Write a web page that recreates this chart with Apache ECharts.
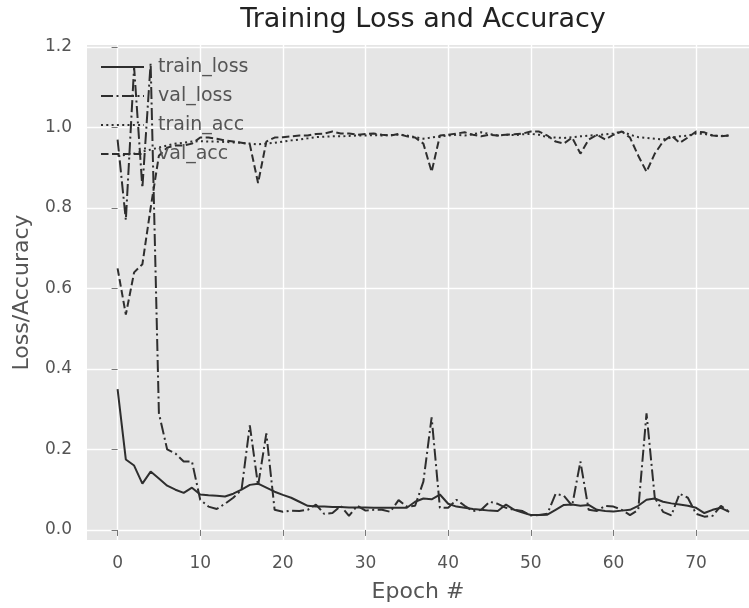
<!DOCTYPE html>
<html>
<head>
<meta charset="utf-8">
<title>Training Loss and Accuracy</title>
<script src="https://cdn.jsdelivr.net/npm/echarts@6/dist/echarts.min.js"></script>
<style>
  html, body { margin: 0; padding: 0; background: #fff; }
  #chart { width: 749px; height: 608px; }
</style>
</head>
<body>
<div id="chart"></div>
<script>
// 75 epochs, values
var epochs = [];
for (var e = 0; e < 75; e++) epochs.push(e);

var trainLoss = [
  0.35, 0.175, 0.16, 0.115, 0.145, 0.128, 0.11, 0.10, 0.092, 0.105,
  0.088, 0.086, 0.085, 0.083, 0.09, 0.10, 0.112, 0.115, 0.105, 0.095,
  0.087, 0.08, 0.07, 0.06, 0.058, 0.058, 0.057, 0.057, 0.056, 0.056,
  0.056, 0.055, 0.055, 0.055, 0.055, 0.055, 0.07, 0.078, 0.076, 0.088,
  0.065, 0.058, 0.055, 0.052, 0.05, 0.048, 0.047, 0.063, 0.05, 0.043,
  0.037, 0.037, 0.038, 0.05, 0.062, 0.063, 0.06, 0.062, 0.05, 0.047,
  0.046, 0.048, 0.05, 0.06, 0.075, 0.078, 0.07, 0.066, 0.063, 0.06,
  0.055, 0.042, 0.05, 0.055, 0.045
];
var valLoss = [
  0.97, 0.77, 1.15, 0.85, 1.16, 0.29, 0.20, 0.19, 0.17, 0.17,
  0.075, 0.058, 0.052, 0.065, 0.08, 0.10, 0.26, 0.11, 0.24, 0.05,
  0.045, 0.048, 0.047, 0.05, 0.063, 0.04, 0.042, 0.06, 0.035, 0.06,
  0.048, 0.05, 0.05, 0.045, 0.074, 0.058, 0.06, 0.12, 0.28, 0.055,
  0.055, 0.075, 0.06, 0.047, 0.05, 0.07, 0.065, 0.055, 0.05, 0.047,
  0.036, 0.037, 0.04, 0.09, 0.085, 0.06, 0.17, 0.05, 0.047, 0.06,
  0.058, 0.05, 0.037, 0.05, 0.29, 0.08, 0.045, 0.036, 0.09, 0.08,
  0.04, 0.033, 0.035, 0.06, 0.045
];
var trainAcc = [
  0.93, 0.932, 0.935, 0.94, 0.945, 0.95, 0.955, 0.96, 0.962, 0.965,
  0.966, 0.965, 0.965, 0.964, 0.963, 0.962, 0.96, 0.958, 0.96, 0.962,
  0.965, 0.968, 0.97, 0.973, 0.976, 0.977, 0.978, 0.978, 0.979, 0.98,
  0.98, 0.981, 0.98, 0.981, 0.982, 0.98, 0.976, 0.972, 0.975, 0.978,
  0.98, 0.982, 0.98, 0.983, 0.988, 0.984, 0.98, 0.982, 0.981, 0.983,
  0.984, 0.982, 0.976, 0.975, 0.974, 0.976, 0.978, 0.98, 0.981, 0.983,
  0.985, 0.99, 0.982, 0.976, 0.974, 0.972, 0.97, 0.975, 0.978, 0.98,
  0.985, 0.984, 0.98, 0.979, 0.98
];
var valAcc = [
  0.65, 0.535, 0.64, 0.66, 0.80, 0.93, 0.95, 0.955, 0.955, 0.96,
  0.975, 0.975, 0.972, 0.968, 0.965, 0.962, 0.958, 0.862, 0.965, 0.975,
  0.976, 0.978, 0.98, 0.98, 0.984, 0.985, 0.99, 0.985, 0.985, 0.982,
  0.984, 0.985, 0.982, 0.98, 0.984, 0.978, 0.975, 0.96, 0.89, 0.98,
  0.982, 0.985, 0.988, 0.982, 0.978, 0.982, 0.98, 0.982, 0.983, 0.985,
  0.99, 0.99, 0.98, 0.965, 0.96, 0.975, 0.935, 0.97, 0.982, 0.97,
  0.982, 0.99, 0.975, 0.93, 0.89, 0.935, 0.965, 0.98, 0.962, 0.975,
  0.99, 0.988, 0.98, 0.978, 0.98
];

var seriesNames = ['train_loss', 'val_loss', 'train_acc', 'val_acc'];
var xTicks = [0, 10, 20, 30, 40, 50, 60, 70];
var yTicks = [0.0, 0.2, 0.4, 0.6, 0.8, 1.0, 1.2];

var font = 'DejaVu Sans';
var lineColor = '#2e2e2e';

function pairs (vals) {
  return epochs.map(function (ep, i) { return [ep, vals[i]]; });
}

function lineSeries (name, vals, dash) {
  return {
    name: name,
    type: 'line',
    data: pairs(vals),
    symbol: 'none',
    lineStyle: { color: lineColor, width: 2, type: dash },
    itemStyle: { color: lineColor }
  };
}

var chart = echarts.init(document.getElementById('chart'));

var option = {
  animation: false,
  backgroundColor: '#fff',
  title: {
    text: 'Training Loss and Accuracy',
    left: 423,
    top: 6,
    padding: 0,
    textAlign: 'center',
    textStyle: { fontFamily: font, fontSize: 27, fontWeight: 'normal', color: '#222' }
  },
  legend: {
    data: seriesNames,
    orient: 'vertical',
    left: 100,
    top: 57,
    padding: 0,
    itemWidth: 43,
    itemHeight: 14,
    itemGap: 9,
    // hide the dot that line legends add in the middle of the sample
    itemStyle: { color: 'rgba(0,0,0,0)', borderWidth: 0 },
    textStyle: {
      fontFamily: font, fontSize: 19, color: '#555',
      lineHeight: 20, padding: [0, 0, 0, 9]
    }
  },
  grid: {
    left: 87,
    right: 0,
    top: 45,
    bottom: 66,
    show: true,
    backgroundColor: '#E5E5E5',
    borderWidth: 0,
    containLabel: false
  },
  xAxis: {
    type: 'value',
    min: -3.7,
    max: 76.4,
    name: 'Epoch #',
    nameLocation: 'middle',
    nameGap: 41,
    nameTextStyle: { fontFamily: font, fontSize: 22, color: '#555' },
    axisLine: { show: false },
    axisTick: { show: true, length: 6, customValues: xTicks, lineStyle: { color: '#777', width: 1 } },
    axisLabel: { customValues: xTicks, margin: 15, fontFamily: font, fontSize: 17, color: '#555' },
    splitLine: { show: true, lineStyle: { color: '#fff', width: 1.4 } }
  },
  yAxis: {
    type: 'value',
    min: -0.025,
    max: 1.205,
    name: 'Loss/Accuracy',
    nameLocation: 'middle',
    nameRotate: 90,
    nameGap: 54,
    nameTextStyle: { fontFamily: font, fontSize: 22, color: '#555' },
    axisLine: { show: false },
    axisTick: { show: true, length: 6, customValues: yTicks, lineStyle: { color: '#777', width: 1 } },
    axisLabel: {
      customValues: yTicks, margin: 15, fontFamily: font, fontSize: 17, color: '#555',
      formatter: function (v) { return v.toFixed(1); }
    },
    splitLine: { show: true, lineStyle: { color: '#fff', width: 1.4 } }
  },
  series: [
    lineSeries('train_loss', trainLoss, 'solid'),
    lineSeries('val_loss', valLoss, [12, 3.5, 2, 3.5]),
    lineSeries('train_acc', trainAcc, [2, 3.3]),
    lineSeries('val_acc', valAcc, [7.5, 3.5])
  ]
};

chart.setOption(option);
</script>
</body>
</html>
